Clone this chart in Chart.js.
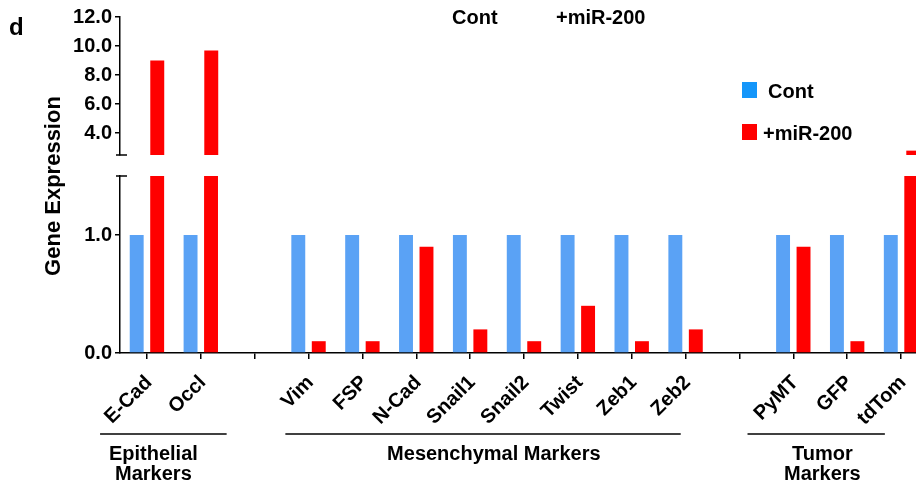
<!DOCTYPE html>
<html>
<head>
<meta charset="utf-8">
<script src="https://cdn.jsdelivr.net/npm/chart.js@4.4.0/dist/chart.umd.min.js"></script>
<style>
  html, body { margin: 0; padding: 0; background: #fff; overflow: hidden; }
  #wrap { position: relative; width: 916px; height: 484px; overflow: hidden;
          font-family: "Liberation Sans", Arial, sans-serif; font-weight: bold; color: #000; }
  #upper { position: absolute; left: 0; top: 0; }
  #lower { position: absolute; left: 0; top: 160px; }
  .txt { position: absolute; white-space: nowrap; line-height: 1; }
  .sq { position: absolute; width: 15px; height: 16px; }
</style>
</head>
<body>
<div id="wrap">
  <canvas id="upper" width="930" height="170"></canvas>
  <canvas id="lower" width="930" height="324"></canvas>
  <div class="txt" style="left:9px; top:15px; font-size:24px;">d</div>
  <div class="txt" style="left:452px; top:7px; font-size:20px;">Cont</div>
  <div class="txt" style="left:556px; top:7px; font-size:20px;">+miR-200</div>
  <div class="txt" style="left:53px; top:186px; font-size:22px; transform:translate(-50%,-50%) rotate(-90deg);">Gene Expression</div>
  <div class="sq" style="left:742px; top:82px; background:#1496fa;"></div>
  <div class="txt" style="left:768px; top:81px; font-size:20px;">Cont</div>
  <div class="sq" style="left:742px; top:124px; background:#ff0000;"></div>
  <div class="txt" style="left:763px; top:123px; font-size:20px;">+miR-200</div>
</div>
<script>
// chart values, empty slots are the gaps between marker groups
const categories = ['E-Cad', 'Occl', '', 'Vim', 'FSP', 'N-Cad', 'Snail1', 'Snail2', 'Twist', 'Zeb1', 'Zeb2', '', 'PyMT', 'GFP', 'tdTom'];
const contValues = [1, 1, null, 1, 1, 1, 1, 1, 1, 1, 1, null, 1, 1, 1];
const mirValues = [9.0, 9.7, null, 0.1, 0.1, 0.9, 0.2, 0.1, 0.4, 0.1, 0.2, null, 0.9, 0.1, 2.8];
const upperTicks = [4, 6, 8, 10, 12];
const lowerTicks = [0, 1];
const groupNames = [['Epithelial', 'Markers'], ['Mesenchymal Markers'], ['Tumor', 'Markers']];

// where each group line / label sits, in category units
const groupSpans = [
  { from: -0.87, to: 1.48, center: 0.12 },
  { from: 2.57, to: 9.91, center: 6.44 },
  { from: 11.15, to: 13.7, center: 12.54 }
];

const FONT = '"Liberation Sans", Arial, sans-serif';
const blue = '#5aa2f5';
const red = '#ff0000';

function makeDatasets() {
  return [
    { label: 'Cont', data: contValues, backgroundColor: blue, categoryPercentage: 0.76, barPercentage: 0.68 },
    { label: '+miR-200', data: mirValues, backgroundColor: red, categoryPercentage: 0.76, barPercentage: 0.68 }
  ];
}

function yScale(min, max, tickList) {
  return {
    min: min,
    max: max,
    afterBuildTicks: s => { s.ticks = tickList.map(v => ({ value: v })); },
    afterFit: s => { s.width = 120; },
    ticks: {
      color: '#000',
      padding: 3,
      font: { family: FONT, size: 20, weight: 'bold' },
      callback: v => Number(v).toFixed(1)
    },
    grid: { drawOnChartArea: false, color: '#000', tickLength: 5, lineWidth: 1.5 },
    border: { color: '#000', width: 1.5 }
  };
}

// short caps marking the axis break
function breakCap(edge) {
  return {
    id: 'breakCap',
    afterDraw(chart) {
      const ctx = chart.ctx;
      const a = chart.chartArea;
      const y = edge === 'bottom' ? a.bottom : a.top;
      ctx.save();
      ctx.strokeStyle = '#000';
      ctx.lineWidth = 1.5;
      ctx.beginPath();
      ctx.moveTo(a.left - 4, y);
      ctx.lineTo(a.left + 7, y);
      ctx.stroke();
      ctx.restore();
    }
  };
}

const groupLabels = {
  id: 'groupLabels',
  afterDraw(chart) {
    const ctx = chart.ctx;
    const x = chart.scales.x;
    ctx.save();
    ctx.strokeStyle = '#000';
    ctx.lineWidth = 1.5;
    ctx.fillStyle = '#000';
    ctx.font = 'bold 20px ' + FONT;
    ctx.textAlign = 'center';
    ctx.textBaseline = 'middle';
    groupNames.forEach((lines, i) => {
      const g = groupSpans[i];
      ctx.beginPath();
      ctx.moveTo(x.getPixelForValue(g.from), 274);
      ctx.lineTo(x.getPixelForValue(g.to), 274);
      ctx.stroke();
      lines.forEach((t, j) => {
        ctx.fillText(t, x.getPixelForValue(g.center), 294 + j * 20);
      });
    });
    ctx.restore();
  }
};

new Chart(document.getElementById('upper'), {
  type: 'bar',
  data: { labels: categories, datasets: makeDatasets() },
  options: {
    responsive: false,
    animation: false,
    layout: { padding: { top: 17, bottom: 6, left: 0, right: 0 } },
    plugins: { legend: { display: false }, tooltip: { enabled: false } },
    scales: {
      x: { display: false },
      y: yScale(2.5, 12, upperTicks)
    }
  },
  plugins: [breakCap('bottom')]
});

new Chart(document.getElementById('lower'), {
  type: 'bar',
  data: { labels: categories, datasets: makeDatasets() },
  options: {
    responsive: false,
    animation: false,
    layout: { padding: { top: 16, bottom: 0, left: 0, right: 0 } },
    plugins: { legend: { display: false }, tooltip: { enabled: false } },
    scales: {
      x: {
        afterFit: s => { s.height = 131; },
        ticks: {
          color: '#000',
          autoSkip: false,
          maxRotation: 45,
          minRotation: 45,
          padding: 12,
          labelOffset: 2,
          font: { family: FONT, size: 20, weight: 'bold' }
        },
        grid: { drawOnChartArea: false, offset: false, color: '#000', tickLength: 6, lineWidth: 1.5 },
        border: { color: '#000', width: 1.5 }
      },
      y: yScale(0, 1.5, lowerTicks)
    }
  },
  plugins: [breakCap('top'), groupLabels]
});
</script>
</body>
</html>
